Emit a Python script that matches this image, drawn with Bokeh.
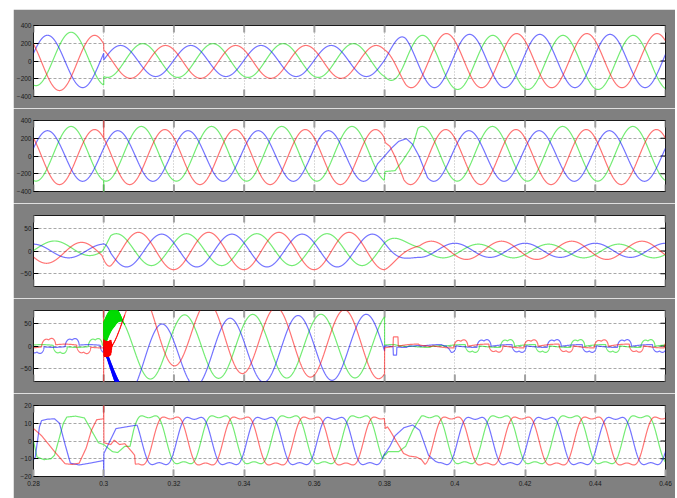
import numpy as np
from bokeh.plotting import figure
from bokeh.layouts import column, row
from bokeh.models import Range1d, FixedTicker, Spacer
from bokeh.embed import file_html
from bokeh.resources import INLINE

# ---------------- data ----------------
F_GRID = 50.0
X_TICKS = [0.28, 0.30, 0.32, 0.34, 0.36, 0.38, 0.40, 0.42, 0.44, 0.46]
X_LABELS = ["0.28", "0.3", "0.32", "0.34", "0.36", "0.38", "0.4", "0.42", "0.44", "0.46"]
Y_TICKS = [[-400, -200, 0, 200, 400], [-400, -200, 0, 200, 400],
           [-50, 0, 50], [-50, 0, 50], [-20, -10, 0, 10, 20]]
Y_LIMITS = [(-400, 400), (-400, 400), (-78, 78), (-78, 78), (-20, 20)]
PHASE_COLORS = ["#ff0000", "#00dd00", "#0000ff"]   # phases: red, green, blue
DRAW_ORDER = [1, 2, 0]

# subplot 1 : three segments (before 0.30, 0.30-0.38, after 0.38); rows red, green, blue
S1_AMP = [[311, 185, 305], [301, 190, 305], [295, 175, 300]]
S1_OFF = [[-22, -10, 4], [23, 5, -16], [-5, 0, 0]]
S1_PK = [[0.0174, 0.0176, 0.0176], [0.0107, 0.0111, 0.0108], [0.0040, 0.0048, 0.0042]]
S1_FADES = [(0.30, 0.300001), (0.38, 0.386)]

# subplot 2 : one steady segment with disturbances
S2_AMP = [[310], [308], [285]]
S2_OFF = [[-12], [25], [0]]
S2_PK = [[0.0174], [0.0107], [0.0040]]
S2_WIN_RED = [([0.29998, 0.30000, 0.30002], [None, 420, None]),
              ([0.3798, 0.3802, 0.3815, 0.3830, 0.3855], [None, 150, 110, -10, None])]
S2_WIN_GREEN = [([0.29998, 0.30000, 0.30002], [None, -420, None]),
                ([0.3799, 0.3801, 0.3830, 0.3850, 0.3870, 0.3882, 0.3895], [None, -175, -165, -60, 60, 140, None])]
S2_WIN_BLUE = [([0.3780, 0.3800, 0.3820, 0.3840, 0.3862, 0.3880, 0.3898, 0.3922],
                [None, 0, 90, 165, 195, 130, 0, None])]

# subplot 3
S3_AMP = [[23, 41, 20], [16, 35, 15], [15, 36, 15.5]]
S3_OFF = [[-4, 0, 1.5], [6, 3, 0], [0, 1, 1.5]]
S3_PK = [[0.0137, 0.0099, 0.0133], [0.0060, 0.0036, 0.0067], [0.0000, 0.0165, 0.0000]]
S3_FADES = [(0.2995, 0.302), (0.38, 0.39)]

# subplot 4
S4_FUND_AMP = [4, 3, 3]
S4_FUND_PK = [0.0090, 0.0023, 0.0157]
S4_PULSE_C = [[0.0043, 0.0017], [0.0176, 0.0150], [0.0110, 0.0083]]  # centre of the up pulse group
S4_PULSE_HEIGHT = 20
S4_PULSE_WIDTH_DEG = 72
S4_HENV_T = [0.38, 0.3855, 0.3975, 0.3990, 0.46]
S4_HENV_V = [0.0, 0.15, 0.15, 1.0, 1.0]
S4_F_B = 51.5
S4_AMP_B = [75, 70, 72]
S4_PK_B = [0.3103, 0.3036, 0.3165]
S4_DC_B = [70, -5, -46]
S4_TAU_B = [0.025, 0.02, 0.025]
S4_F_RIP = 8000.0
S4_RIP_T = [[0.300, 0.302, 0.3024], [0.300, 0.303, 0.3055], [0.300, 0.3045, 0.3052]]
S4_RIP_A = [[18, 16, 0], [30, 22, 0], [4, 12, 0]]
S4_WIN_RED = [([0.29994, 0.29996, 0.29998, 0.30000], [None, 100, -100, None]),
              ([0.3824, 0.3825, 0.3838, 0.3839], [None, 20, 20, None])]
S4_WIN_GREEN = []
S4_WIN_BLUE = [([0.3824, 0.3825, 0.3834, 0.3835], [None, -20, -20, None])]

# subplot 5 (flat-topped waves)
S5_AMP = [[13.5, 13.5], [13.5, 13.5], [13.3, 13.3]]
S5_OFF = [[0, 0], [0.7, 0.7], [0, 0]]
S5_PK = [[0.0190, 0.0190], [0.0128, 0.0128], [0.0058, 0.0058]]
S5_FADES = [(0.38, 0.380001)]
S5_WIN_RED = [([0.2800, 0.2823, 0.2860, 0.2890, 0.2910, 0.2930, 0.2950, 0.2965, 0.2980, 0.29995,
                0.30000, 0.30005, 0.3020, 0.3030, 0.3045, 0.3060, 0.3080, 0.3088, 0.3090, 0.3100],
               [7, 3, -6, -12.8, -13.2, -12.5, -4, 6, 12, 12.5,
                25, -1, -2, 0.5, -2, -1.5, -6, -8, -13, None]),
              ([0.3799, 0.3802, 0.3808, 0.3815, 0.3854, 0.3870, 0.3890, 0.3905, 0.3915],
               [None, 7, 8, 6, -7, -8.5, -9, -10.5, None])]
S5_WIN_GREEN = [([0.2800, 0.2810, 0.2830, 0.2850, 0.2860, 0.2885, 0.2895, 0.2920, 0.2945, 0.2965,
                  0.2985, 0.3000, 0.3025, 0.3040, 0.3060, 0.3075, 0.3085],
                 [0, -9, -10.5, -10, -8, 10, 13.5, 14, 13, 6,
                  -1, -2, -6, -6.5, -3, -3, None]),
                ([0.3795, 0.3800, 0.3802, 0.3810, 0.3840, 0.3860, 0.3880, 0.3895, 0.3905],
                 [None, -7, -8, -6, -6, -3, 6, 11, None])]
S5_WIN_BLUE = [([0.2800, 0.2805, 0.2817, 0.2823, 0.2840, 0.2860, 0.2874, 0.2890, 0.2905, 0.2930,
                 0.2960, 0.29995, 0.30000, 0.30005, 0.3035, 0.3080, 0.3095],
                [-10.7, -9, 8, 11.5, 12.3, 12.5, 10, -2, -12.5, -13.5,
                 -12.5, -11, -25, -7, 7, 8.5, None]),
               ([0.3795, 0.3815, 0.3830, 0.3855, 0.3880, 0.3900, 0.3925, 0.3945, 0.3955],
                [None, -3, 3, 7.5, 9, 6, -8, -11.5, None])]

# ---------------- signal construction ----------------
def cos_shape(ph):
    return np.cos(ph)


def flat_shape(ph):
    return (np.cos(ph) - 0.2 * np.cos(3 * ph)) / 0.871


def make_grid(windows_list, fine=None):
    parts = [np.arange(0.28, 0.46 + 1e-9, 2e-5)]
    if fine is not None:
        parts.append(np.arange(fine[0], fine[1], 1e-6))
    for wins in windows_list:
        for tk, _ in wins:
            parts.append(np.asarray(tk, float))
    return np.unique(np.concatenate(parts))


def segmented(t, amps, offs, pks, fades, shape, f=F_GRID):
    vals = [a * shape(2 * np.pi * f * (t - p)) + o for a, o, p in zip(amps, offs, pks)]
    y = vals[0]
    for j, (fa, fb) in enumerate(fades):
        w = np.clip((t - fa) / (fb - fa), 0, 1)
        y = (1 - w) * y + w * vals[j + 1]
    return y


def apply_windows(t, y, windows):
    y = y.copy()
    for tk, vk in windows:
        tk = np.asarray(tk, float)
        vk = np.array([np.nan if v is None else v for v in vk], float)
        base = np.interp(tk, t, y)
        vk = np.where(np.isnan(vk), base, vk)
        m = (t >= tk[0]) & (t <= tk[-1])
        y[m] = np.interp(t[m], tk, vk)
    return y


def pulse_groups(ph):
    """Up pulse group around pi/2, down group around 3pi/2, each with two humps."""
    ph = np.mod(ph, 2 * np.pi)
    width = np.deg2rad(S4_PULSE_WIDTH_DEG)
    out = np.zeros_like(ph)
    for centre, sign in [(np.pi / 2, 1.0), (3 * np.pi / 2, -1.0)]:
        x = (ph - centre) / width + 0.5
        m = (x > 0) & (x < 1)
        xs = x[m]
        out[m] += sign * np.sin(np.pi * xs) ** 0.5 * (0.65 + 0.35 * np.abs(np.cos(np.pi * xs)))
    return out


W = 2 * np.pi * F_GRID
signals = []

# subplot 1
t1 = make_grid([])
signals.append((t1, [segmented(t1, S1_AMP[k], S1_OFF[k], S1_PK[k], S1_FADES, cos_shape) for k in range(3)], None))

# subplot 2
s2w = [S2_WIN_RED, S2_WIN_GREEN, S2_WIN_BLUE]
t2 = make_grid(s2w)
signals.append((t2, [apply_windows(t2, segmented(t2, S2_AMP[k], S2_OFF[k], S2_PK[k], [], cos_shape), s2w[k])
                     for k in range(3)], None))

# subplot 3
t3 = make_grid([])
signals.append((t3, [segmented(t3, S3_AMP[k], S3_OFF[k], S3_PK[k], S3_FADES, cos_shape) for k in range(3)], None))

# subplot 4
s4w = [S4_WIN_RED, S4_WIN_GREEN, S4_WIN_BLUE]
t4 = make_grid(s4w, fine=(0.2999, 0.3062))
ys4 = []
henv = np.interp(t4, S4_HENV_T, S4_HENV_V)
for k in range(3):
    fund = S4_FUND_AMP[k] * np.cos(W * (t4 - S4_FUND_PK[k]))
    ya = fund + S4_PULSE_HEIGHT * pulse_groups(W * (t4 - S4_PULSE_C[k][0]) + np.pi / 2)
    yc = fund + S4_PULSE_HEIGHT * henv * pulse_groups(W * (t4 - S4_PULSE_C[k][1]) + np.pi / 2)
    rip = np.interp(t4, S4_RIP_T[k], S4_RIP_A[k], left=0, right=0) * np.sin(2 * np.pi * S4_F_RIP * t4)
    yb = (S4_AMP_B[k] * np.cos(2 * np.pi * S4_F_B * (t4 - S4_PK_B[k]))
          + S4_DC_B[k] * np.exp(-(t4 - 0.30) / S4_TAU_B[k]) + rip)
    y = np.where(t4 < 0.30, ya, np.where(t4 < 0.38, yb, yc))
    ys4.append(apply_windows(t4, y, s4w[k]))
signals.append((t4, ys4, "ripple"))

# subplot 5
s5w = [S5_WIN_RED, S5_WIN_GREEN, S5_WIN_BLUE]
t5 = make_grid(s5w)
signals.append((t5, [apply_windows(t5, segmented(t5, S5_AMP[k], S5_OFF[k], S5_PK[k], S5_FADES, flat_shape), s5w[k])
                     for k in range(3)], None))

# ---------------- figures ----------------
GRAY = "#808080"
FIG_W = 662
TOPS = [16, 12, 12, 12, 12]
BOTTOMS = [12, 12, 12, 12, 22]
FRAME_H = 71
BORDER_L, BORDER_R = 18, 10

figs = []
for i in range(5):
    last = (i == 4)
    lo, hi = Y_LIMITS[i]
    p = figure(width=FIG_W, height=TOPS[i] + FRAME_H + BOTTOMS[i],
               x_range=Range1d(0.28, 0.46), y_range=Range1d(lo, hi),
               output_backend="svg", toolbar_location=None,
               min_border_left=BORDER_L, min_border_right=BORDER_R,
               min_border_top=TOPS[i], min_border_bottom=BOTTOMS[i],
               background_fill_color="white", border_fill_color=GRAY,
               outline_line_color="#1a1a1a", outline_line_width=1)

    p.xgrid.ticker = FixedTicker(ticks=X_TICKS)
    p.ygrid.ticker = FixedTicker(ticks=Y_TICKS[i])
    p.xgrid.grid_line_color = "#b4b4b4"
    p.xgrid.grid_line_dash = "1 2"
    p.ygrid.grid_line_color = "#a8a8a8"
    p.ygrid.grid_line_dash = "3 2"

    bx = p.xaxis[0]
    if last:
        bx.ticker = FixedTicker(ticks=X_TICKS)
        bx.major_label_overrides = {tk: lb for tk, lb in zip(X_TICKS, X_LABELS)}
        bx.major_label_text_font_size = "6.5px"
        bx.major_label_text_font = "Liberation Sans"
        bx.major_label_text_color = "#1a1a1a"
        bx.major_label_standoff = 4
        bx.major_tick_in = 7
        bx.major_tick_out = 0
        bx.major_tick_line_color = "#a0a0a0"
        bx.major_tick_line_width = 2
        bx.minor_tick_line_color = None
        bx.axis_line_color = None
    else:
        bx.visible = False
        p.scatter(x=X_TICKS, y=[lo] * len(X_TICKS), marker="dash", size=14, angle=np.pi / 2,
                  line_color="#a0a0a0", line_width=2)
    p.scatter(x=X_TICKS, y=[hi] * len(X_TICKS), marker="dash", size=14, angle=np.pi / 2,
              line_color="#a0a0a0", line_width=2)

    ly = p.yaxis[0]
    ly.ticker = FixedTicker(ticks=Y_TICKS[i])
    ly.major_tick_in = 5
    ly.major_tick_out = 0
    ly.major_tick_line_color = "black"
    ly.minor_tick_line_color = None
    ly.axis_line_color = None
    ly.major_label_text_font_size = "6.5px"
    ly.major_label_text_font = "Liberation Sans"
    ly.major_label_text_color = "#1a1a1a"
    ly.major_label_standoff = 2
    p.scatter(x=[0.46] * len(Y_TICKS[i]), y=Y_TICKS[i], marker="dash", size=10,
              line_color="black", line_width=1)

    t, ys, extra = signals[i]
    for k in DRAW_ORDER:
        p.line(t, ys[k], line_color=PHASE_COLORS[k], line_width=1.2, line_alpha=0.55)
    if extra == "ripple":
        m = (t >= 0.30) & (t <= 0.3060)
        for k in DRAW_ORDER:
            p.line(t[m], ys[k][m], line_color=PHASE_COLORS[k], line_width=1.0, line_alpha=1.0)
    figs.append(p)

layout = row(Spacer(width=13), column(Spacer(height=9), *figs, spacing=0), spacing=0)
open("out.html", "w").write(file_html(layout, INLINE))
